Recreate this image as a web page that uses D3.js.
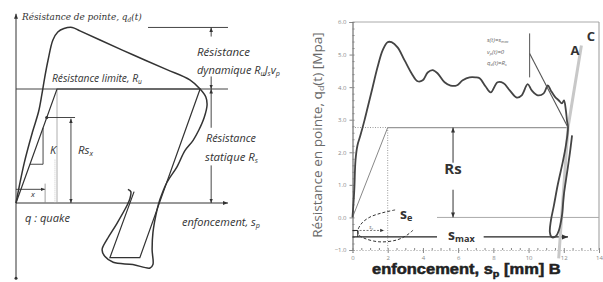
<!DOCTYPE html>
<html>
<head>
<meta charset="utf-8">
<script src="https://cdn.jsdelivr.net/npm/d3@7"></script>
<style>
  body { margin: 0; background: #fff; }
  svg { display: block; }
</style>
</head>
<body>
<svg id="chart" width="603" height="282"></svg>
<script>
// ---- Left panel: Smith model schematic (s in quakes, q in units of Ru) ----
const dynamicCurve = [[0,0],[0.2,0.35],[0.4,0.62],[0.55,0.8],[0.63,0.95],[0.7,1.1],
  [0.78,1.25],[0.90,1.43],[1.02,1.50],[1.17,1.53],[1.37,1.54],[1.56,1.51],[2.05,1.43],
  [2.85,1.30],[3.68,1.17],[4.24,1.08],[4.49,1.0],[4.63,0.93],[4.66,0.86],[4.59,0.75],[4.46,0.64],
  [4.32,0.55],[4.12,0.46],[3.93,0.32],[3.68,0.18],[3.51,0.03],[3.44,-0.06],[3.34,-0.26],[3.32,-0.41],
  [3.34,-0.54],[3.27,-0.57],[2.85,-0.54],[2.37,-0.52],[2.17,-0.47],[2.10,-0.41],[2.22,-0.32],
  [2.46,-0.18],[2.71,-0.02],[2.78,0.04],[2.80,0.10],[2.73,0.12]];
const staticLoop = [[0,0],[1,1],[4.49,1],[3.02,-0.48],[2.29,-0.48],[2.88,0.1]];
const ruLevel = 1;
const peakLevel = 1.54;
const axisEndS = 5.17;

// ---- Right panel: measured q_d(t) vs s_p ----
const xTicks = [0, 2, 4, 6, 8, 10, 12, 14];
const yTicks = [-1, 0, 1, 2, 3, 4, 5, 6];
const qdCurve = [[0,0],[0.1,0.83],[0.17,1.75],[0.28,2.21],[0.45,2.52],[0.68,2.98],[0.85,3.35],
  [1.14,3.99],[1.42,4.61],[1.71,5.13],[1.99,5.38],[2.22,5.38],[2.56,5.22],[2.96,4.82],[3.36,4.42],
  [3.70,4.18],[3.99,4.21],[4.27,4.45],[4.55,4.52],[4.84,4.42],[5.23,4.15],[5.57,4.05],[5.91,4.05],
  [6.26,4.21],[6.65,4.30],[6.99,4.30],[7.22,4.27],[7.56,4.02],[7.85,3.84],[8.24,4.15],[8.58,4.12],
  [8.93,3.90],[9.33,3.68],[9.61,3.75],[9.95,4.09],[10.18,3.90],[10.52,3.75],[10.86,3.81],[11.09,4.05],
  [11.26,3.90],[11.49,3.71],[11.72,3.59],[11.89,3.50],[12.01,3.59],[12.12,3.28],[12.18,2.98],
  [12.24,2.76],[12.12,2.21],[11.95,1.72],[11.66,1.01],[11.44,0.37],[11.27,-0.09],[11.21,-0.46],
  [11.32,-0.61],[11.55,-0.58],[11.72,-0.40],[11.89,0.03],[12.0,0.68],[12.18,1.35],[12.35,1.99],[12.47,2.52]];
const seCurve = [[2.42,0.23],[1.68,0.14],[0.99,0.01],[0.54,-0.17],[0.31,-0.39],[0.37,-0.54],
  [0.77,-0.66],[1.56,-0.75],[2.53,-0.69],[3.10,-0.54],[3.44,-0.39]];
const lineABC = [[13.0,5.28],[12.24,2.76],[11.71,-1.26]];
const rsLevel = 2.76;
const sMaxLevel = -0.6;
const sMax = 12.24;
const sQuake = 2;

const ink = "#333";
const svg = d3.select("#chart");

// arrow head marker
const defs = svg.append("defs");
defs.append("marker")
    .attr("id", "arr")
    .attr("viewBox", "0 0 10 10")
    .attr("refX", 10).attr("refY", 5)
    .attr("markerWidth", 5).attr("markerHeight", 5)
    .attr("orient", "auto-start-reverse")
    .append("path")
    .attr("d", "M0,1L10,5L0,9z")
    .attr("fill", ink);

// text with optional subscripts: parts = [[str, isSub], ...]
// o.len squeezes the whole label horizontally to that width
function addText(g, x, y, parts, o) {
    const t = g.append("text")
        .attr("font-family", o.family || "'Open Sans', sans-serif")
        .attr("font-size", o.size)
        .attr("font-style", o.italic ? "italic" : "normal")
        .attr("font-weight", o.weight || "normal")
        .attr("fill", o.fill || ink)
        .attr("text-anchor", o.anchor || "start");
    if (o.stroke) t.attr("stroke", o.stroke).attr("stroke-width", o.strokeWidth);
    parts.forEach(p => {
        t.append("tspan")
            .attr("font-size", p[1] ? o.size * 0.65 : o.size)
            .attr("baseline-shift", p[1] ? "-25%" : null)
            .text(p[0]);
    });
    let k = 1;
    if (o.len) k = o.len / t.node().getComputedTextLength();
    t.attr("transform", `translate(${x},${y})${o.rotate ? ` rotate(${o.rotate})` : ""} scale(${k},1)`);
    return t;
}

// ================= LEFT =================
const sL = d3.scaleLinear().domain([0, 1]).range([16, 57]);
const qL = d3.scaleLinear().domain([0, 1]).range([203, 89]);
const lineL = d3.line().x(d => sL(d[0])).y(d => qL(d[1]));
const left = svg.append("g");

function segL(pts, stroke, width, opts) {
    const p = left.append("path").datum(pts)
        .attr("d", lineL).attr("fill", "none")
        .attr("stroke", stroke).attr("stroke-width", width);
    if (opts && opts.start) p.attr("marker-start", "url(#arr)");
    if (opts && opts.end) p.attr("marker-end", "url(#arr)");
    if (opts && opts.dash) p.attr("stroke-dasharray", opts.dash);
    return p;
}

// axes
segL([[0, -0.66], [0, 1.66]], ink, 1, {end: true});
left.append("circle").attr("cx", sL(0)).attr("cy", qL(-0.66)).attr("r", 1.5).attr("fill", ink);
segL([[0, 0], [axisEndS, 0]], ink, 1, {end: true});

// levels
segL([[0, ruLevel], [axisEndS, ruLevel]], "#444", 1);
segL([[3.22, peakLevel], [axisEndS, peakLevel]], "#444", 1);

// quake line and helpers
segL([[1, 1], [1, 0]], "#999", 0.8);
segL([[0.95, 0.38], [0.95, 0]], "#bbb", 0.8, {dash: "1,1"});
segL([[0.34, 0.34], [0.66, 0.34], [0.66, 0.66]], ink, 0.9);
segL([[0.75, 0.75], [1.44, 0.75]], ink, 0.9);
left.append("circle").attr("cx", sL(0.75)).attr("cy", qL(0.75)).attr("r", 1.6).attr("fill", ink);
segL([[1.34, 0.74], [1.34, 0]], ink, 0.9, {start: true, end: true});
segL([[0, 0.12], [0.71, 0.12]], ink, 0.9, {end: true});
segL([[0.71, 0.17], [0.71, 0]], "#888", 0.8);

// static elasto-plastic loop and dynamic curve
segL(staticLoop, ink, 1.2);
left.append("path").datum(dynamicCurve)
    .attr("d", lineL.curve(d3.curveCatmullRom))
    .attr("fill", "none").attr("stroke", ink).attr("stroke-width", 1.5);
lineL.curve(d3.curveLinear);

// dimension arrows on the right
segL([[4.76, peakLevel], [4.76, 1.46]], ink, 0.9, {start: true});
segL([[4.76, 1.11], [4.76, ruLevel]], ink, 0.9, {end: true});
segL([[4.76, ruLevel], [4.76, 0.66]], ink, 0.9, {start: true});
segL([[4.76, 0.33], [4.76, 0]], ink, 0.9, {end: true});

// left labels
addText(left, 22, 20, [["Résistance de pointe,  q", false], ["d", true], ["(t)", false]],
    {size: 10, italic: true, family: "'DejaVu Serif', serif", len: 120});
addText(left, 52, 82, [["Résistance limite, R", false], ["u", true]], {size: 11.5, italic: true, len: 90});
addText(left, 197, 56, [["Résistance", false]], {size: 11.5, italic: true, len: 53});
addText(left, 197, 74, [["dynamique R", false], ["u", true], ["J", false], ["s", true], ["v", false], ["p", true]],
    {size: 11.5, italic: true, len: 83});
addText(left, 206, 142, [["Résistance", false]], {size: 11.5, italic: true, len: 50});
addText(left, 205, 161, [["statique R", false], ["s", true]], {size: 11.5, italic: true, len: 53});
addText(left, 50, 154, [["K", false]], {size: 11, italic: true});
addText(left, 78, 154, [["Rs", false], ["x", true]], {size: 11, italic: true, len: 15});
addText(left, 31, 197, [["x", false]], {size: 8, italic: true});
addText(left, 25, 222, [["q : quake", false]], {size: 11.5, italic: true, len: 45});
addText(left, 182, 226, [["enfoncement, s", false], ["p", true]], {size: 11.5, italic: true, len: 78});

// ================= RIGHT =================
const x = d3.scaleLinear().domain([0, 14]).range([352.5, 599]);
const y = d3.scaleLinear().domain([-1, 6]).range([250, 22]);
const line = d3.line().x(d => x(d[0])).y(d => y(d[1]));
const right = svg.append("g");

function seg(pts, stroke, width, opts) {
    const p = right.append("path").datum(pts)
        .attr("d", line).attr("fill", "none")
        .attr("stroke", stroke).attr("stroke-width", width);
    if (opts && opts.start) p.attr("marker-start", "url(#arr)");
    if (opts && opts.end) p.attr("marker-end", "url(#arr)");
    if (opts && opts.dash) p.attr("stroke-dasharray", opts.dash);
    return p;
}

// frame
seg([[0, 6], [14, 6]], "#aaa", 1);
seg([[14, 6], [14, -1]], "#999", 1);

// y axis
const yAxis = right.append("g")
    .attr("transform", `translate(${x(0)},0)`)
    .call(d3.axisLeft(y).tickValues(yTicks).tickFormat(d3.format(".1f")).tickSize(3));
right.append("g")
    .attr("transform", `translate(${x(0)},0)`)
    .call(d3.axisRight(y).tickValues(d3.range(-1, 6.01, 0.2)).tickFormat("").tickSize(2))
    .call(g => g.select(".domain").remove());

// x axis
const xAxis = right.append("g")
    .attr("transform", `translate(0,${y(-1)})`)
    .call(d3.axisBottom(x).tickValues(xTicks).tickFormat(d3.format("d")).tickSize(3));
right.append("g")
    .attr("transform", `translate(0,${y(-1)})`)
    .call(d3.axisTop(x).tickValues(d3.range(0, 14.01, 0.5)).tickFormat("").tickSize(2))
    .call(g => g.select(".domain").remove());

[yAxis, xAxis].forEach(a => {
    a.selectAll("text").attr("font-size", "6px").attr("fill", "#888")
        .attr("font-family", "'Open Sans', sans-serif");
});
yAxis.select(".domain").attr("stroke", "#555");
xAxis.select(".domain").attr("stroke", "#999").attr("stroke-dasharray", "1,2");
right.selectAll(".tick line").attr("stroke", "#888");

// reference lines
seg([[4.8, 0], [14, 0]], "#aaa", 1);
seg([[0, rsLevel], [sQuake, rsLevel]], "#999", 1, {dash: "1,1.5"});
seg([[sQuake, rsLevel], [sQuake, -1]], "#999", 1, {dash: "1,1.5"});
seg([[sQuake, rsLevel], [sMax, rsLevel]], "#999", 1.2);
seg([[0, 0], [sQuake, rsLevel]], "#888", 1);

// Rs dimension
seg([[5.71, rsLevel], [5.71, 1.68]], ink, 1, {start: true});
seg([[5.71, 0.85], [5.71, 0]], ink, 1, {end: true});
addText(right, x(5.71), 174, [["Rs", false]], {size: 15, weight: "bold", anchor: "middle", fill: "#333"});

// s_max dimension
seg([[0, sMaxLevel], [4.8, sMaxLevel]], "#222", 1.3);
seg([[7.45, sMaxLevel], [sMax, sMaxLevel]], "#222", 1.3, {end: true});
addText(right, 448, 240, [["s", false], ["max", true]], {size: 14, weight: "bold", fill: "#333"});

// s_e zone
right.append("path").datum(seCurve)
    .attr("d", line.curve(d3.curveCatmullRom))
    .attr("fill", "none").attr("stroke", ink).attr("stroke-width", 1).attr("stroke-dasharray", "3,2");
line.curve(d3.curveLinear);
seg([[0.4, -0.4], [1.8, -0.4]], "#555", 0.8, {dash: "2,1.5", end: true});
seg([[0, -0.4], [0.3, -0.4], [0.3, -0.6]], "#222", 1);
addText(right, x(0.95), 229, [["s", false], ["e", true]], {size: 5, italic: true, fill: "#666"});
addText(right, 400, 219, [["s", false], ["e", true]], {size: 14, weight: "bold", fill: "#333"});

// light line through A, C and B
seg(lineABC, "#c8c8c8", 3);

// measured dynamic curve
right.append("path").datum(qdCurve)
    .attr("d", line.curve(d3.curveCatmullRom))
    .attr("fill", "none").attr("stroke", "#444").attr("stroke-width", 1.8);
line.curve(d3.curveLinear);

// annotation
seg([[10.06, 5.03], [sMax, rsLevel]], "#555", 1.1);
seg([[10.06, 5.65], [10.06, 4.3]], "#555", 1);
addText(right, 487, 42, [["s(t)=s", false], ["max", true]], {size: 6, italic: true, fill: "#666"});
addText(right, 487, 54, [["v", false], ["p", true], ["(t)=0", false]], {size: 6, italic: true, fill: "#666"});
addText(right, 487, 65, [["q", false], ["d", true], ["(t)=R", false], ["s", true]], {size: 6, italic: true, fill: "#666"});
addText(right, 575, 55, [["A", false]], {size: 13, weight: "bold", anchor: "middle", fill: "#333"});
addText(right, 591, 41, [["C", false]], {size: 13, weight: "bold", anchor: "middle", fill: "#333"});

// axis titles
addText(right, 322, 135, [["Résistance en pointe, q", false], ["d", true], ["(t) [Mpa]", false]],
    {size: 12, anchor: "middle", fill: "#6a6a6a", len: 206, rotate: -90});
addText(right, 372, 274, [["enfoncement, s", false], ["p", true], [" [mm] B", false]],
    {size: 14, weight: "900", fill: "#222", len: 189, stroke: "#222", strokeWidth: 0.5,
     family: "'Liberation Sans', Arial, sans-serif"});
</script>
</body>
</html>
